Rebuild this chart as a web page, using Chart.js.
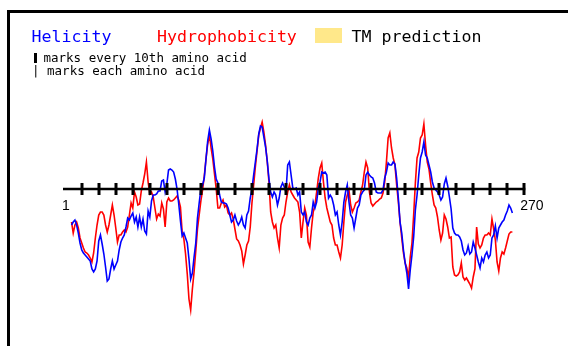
<!DOCTYPE html>
<html>
<head>
<meta charset="utf-8">
<script src="https://cdn.jsdelivr.net/npm/chart.js@4/dist/chart.umd.min.js"></script>
<style>
  html, body { margin: 0; padding: 0; background: #ffffff; }
  canvas { display: block; }
</style>
</head>
<body>
<canvas id="profile" width="568" height="346"></canvas>
<script>
// sequence length and tick labels
const seqStart = 1;
const seqEnd = 270;
const majorTicks = [10, 20, 30, 40, 50, 60, 70, 80, 90, 100, 110, 120, 130, 140, 150, 160, 170, 180, 190, 200, 210, 220, 230, 240, 250, 260, 270];
const endLabels = ["1", "270"];

// first residue that has a window value (smoothed profile)
const firstResidue = 4;

// helicity profile, residues 4..263
const helicity = [
  -36, -33, -31, -36, -44, -54, -61, -64, -66, -68, -70, -72, -80, -83, -80, -72, -52,
  -46, -55, -65, -78, -92, -90, -80, -72, -80, -76, -72, -61, -53, -49, -46, -38, -29,
  -31, -27, -24, -33, -28, -38, -28, -38, -30, -42, -45, -22, -28, -12, -6, -6, -5,
  -2, -2, 8, 9, -3, 5, 19, 20, 19, 17, 10, 0, -15, -32, -47, -44, -49, -54, -70,
  -90, -84, -68, -54, -29, -14, 0, 4, 11, 30, 48, 59, 50, 38, 22, 10, 6, -6,
  -13, -14, -14, -15, -19, -26, -33, -31, -26, -32, -36, -33, -28, -36, -39, -26, -22,
  -9, 0, 14, 27, 40, 55, 63, 62, 52, 42, 28, 10, -3, -8, -3, -6, -16, -9,
  2, 6, 2, -3, 24, 27, 14, 1, 0, 1, -6, -3, -23, -26, -23, -33, -36, -29,
  -26, -13, -19, -13, 1, 7, 17, 16, 17, 14, -9, -6, -9, -16, -26, -23, -36, -46,
  -33, -13, -3, 4, -13, -26, -29, -39, -29, -19, -16, -6, -3, -1, 14, 17, 14, 12,
  11, 6, -3, -4, -4, -4, -1, 11, 17, 26, 24, 24, 27, 25, 11, -9, -33, -44,
  -61, -74, -84, -100, -81, -66, -48, -21, -6, 14, 31, 37, 47, 34, 31, 24, 17, 7,
  1, -1, -3, -6, -11, -8, 5, 11, 3, -8, -20, -39, -44, -46, -46, -48, -52, -61,
  -66, -64, -57, -65, -63, -53, -59, -66, -73, -79, -69, -73, -66, -63, -69, -66, -49,
  -46, -37, -49, -39, -36, -33, -31, -26, -22, -16, -19, -24
];

// hydrophobicity profile, residues 4..263
const hydrophobicity = [
  -33, -44, -36, -33, -39, -49, -54, -59, -63, -64, -66, -69, -73, -64, -49, -36, -26,
  -23, -23, -26, -36, -43, -36, -26, -16, -26, -39, -53, -46, -46, -43, -41, -43, -38,
  -26, -14, -19, -3, -8, -16, -15, -2, 6, 15, 27, 7, -5, -3, -8, -19, -30,
  -25, -27, -14, -20, -38, -13, -9, -12, -12, -11, -9, -7, -11, -18, -43, -50, -65, -85, -110,
  -121, -100, -83, -62, -40, -26, -12, -1, 13, 30, 45, 54, 41, 30, 15, 0, -19, -19,
  -14, -11, -18, -16, -24, -26, -24, -30, -40, -50, -52, -56, -62, -75, -66, -56, -52,
  -38, -14, 4, 22, 38, 54, 61, 67, 57, 44, 27, 7, -23, -33, -39, -36, -49, -59,
  -36, -29, -26, -13, -3, 4, -3, -6, -9, -11, -13, -23, -49, -33, -19, -26, -53, -58,
  -39, -23, -16, -3, 11, 21, 26, 7, -9, -19, -26, -33, -36, -49, -56, -56, -63, -69,
  -56, -33, -13, -6, -1, -16, -23, -19, -14, -13, -11, -3, 4, 17, 27, 21, -3, -14,
  -17, -15, -13, -12, -10, -9, -4, 7, 27, 51, 56, 41, 31, 24, 4, -13, -33, -49,
  -64, -74, -79, -89, -68, -54, -26, 6, 31, 37, 51, 54, 65, 44, 27, 20, 6, -6,
  -16, -19, -28, -41, -51, -44, -26, -30, -38, -49, -48, -78, -86, -87, -86, -83, -74, -88,
  -91, -89, -92, -95, -99, -88, -80, -38, -55, -59, -56, -49, -46, -46, -44, -46, -30,
  -40, -51, -73, -82, -69, -63, -65, -59, -52, -45, -43, -43
];

const helixColor = "#0000ff";
const hydroColor = "#ff0000";
const tmColor = "#ffe88a";

function toPoints(values) {
  return values.map(function (v, i) {
    return { x: firstResidue + i, y: v };
  });
}

// frame, legend text and the residue axis
const decorations = {
  id: "decorations",
  beforeDraw: function (chart) {
    const ctx = chart.ctx;
    ctx.save();
    ctx.fillStyle = "#ffffff";
    ctx.fillRect(0, 0, chart.width, chart.height);
    ctx.fillStyle = "#000000";
    ctx.fillRect(7, 10, chart.width - 7, 3);
    ctx.fillRect(7, 10, 3, chart.height - 10);

    ctx.font = "16.6px 'DejaVu Sans Mono'";
    ctx.textBaseline = "alphabetic";
    ctx.fillStyle = helixColor;
    ctx.fillText("Helicity", 31.5, 42);
    ctx.fillStyle = hydroColor;
    ctx.fillText("Hydrophobicity", 157, 42);
    ctx.fillStyle = tmColor;
    ctx.fillRect(315, 28, 27, 15);
    ctx.fillStyle = "#000000";
    ctx.fillText("TM prediction", 351.5, 42);

    ctx.font = "12.5px 'DejaVu Sans Mono'";
    ctx.fillRect(34, 53, 3, 10);
    ctx.fillText("marks every 10th amino acid", 43.5, 62);
    ctx.fillText("| marks each amino acid", 32, 74.5);
    ctx.restore();
  },
  afterDatasetsDraw: function (chart) {
    const ctx = chart.ctx;
    const xs = chart.scales.x;
    const y0 = chart.scales.y.getPixelForValue(0);
    ctx.save();
    ctx.strokeStyle = "#000000";
    ctx.lineWidth = 2.5;
    ctx.beginPath();
    ctx.moveTo(xs.getPixelForValue(seqStart - 2), y0);
    ctx.lineTo(xs.getPixelForValue(seqEnd) + 1, y0);
    ctx.stroke();
    ctx.fillStyle = "#000000";
    majorTicks.forEach(function (t) {
      const px = xs.getPixelForValue(t);
      ctx.fillRect(Math.round(px) - 1.5, y0 - 6, 3, 12);
    });
    ctx.font = "14px 'Liberation Sans'";
    ctx.textBaseline = "alphabetic";
    ctx.fillText(endLabels[0], xs.getPixelForValue(seqStart - 2) - 1, 209.5);
    ctx.fillText(endLabels[1], xs.getPixelForValue(seqEnd) - 4, 209.5);
    ctx.restore();
  }
};

new Chart(document.getElementById("profile"), {
  type: "line",
  data: {
    datasets: [
      {
        label: "Helicity",
        data: toPoints(helicity),
        borderColor: helixColor,
        borderWidth: 1.6,
        pointRadius: 0,
        tension: 0,
        fill: false
      },
      {
        label: "Hydrophobicity",
        data: toPoints(hydrophobicity),
        borderColor: hydroColor,
        borderWidth: 1.6,
        pointRadius: 0,
        tension: 0,
        fill: false
      }
    ]
  },
  options: {
    responsive: false,
    animation: false,
    devicePixelRatio: 1,
    layout: { padding: { left: 63, right: 43.7, top: 110, bottom: 26 } },
    scales: {
      x: { type: "linear", min: seqStart - 2, max: seqEnd, display: false },
      y: { type: "linear", min: -131, max: 79, display: false }
    },
    plugins: {
      legend: { display: false },
      tooltip: { enabled: false }
    },
    clip: false
  },
  plugins: [decorations]
});
</script>
</body>
</html>
